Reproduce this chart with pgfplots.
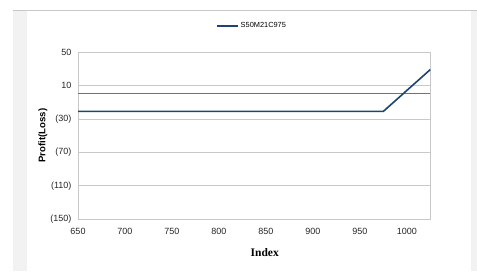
\documentclass[border=0pt]{standalone}
\usepackage{pgfplots}
\pgfplotsset{compat=1.18}
\usepackage{fontspec}
\setmainfont{Liberation Sans}
\newfontfamily\serifbf{Liberation Serif}
\definecolor{lineblue}{HTML}{1B4572}
\definecolor{strip}{HTML}{F2F2F2}
\definecolor{gridc}{HTML}{C8C8C8}
\begin{document}
\begin{tikzpicture}
\useasboundingbox (0pt,0pt) rectangle (477pt,271pt);
\fill[white] (0pt,0pt) rectangle (477pt,271pt);
\fill[strip] (13pt,0pt) rectangle (27pt,261pt);
\fill[strip] (471pt,0pt) rectangle (477pt,261pt);
\draw[gridc, line width=0.8pt] (13pt,261pt) -- (477pt,261pt);
\begin{axis}[
  at={(78pt,51.7pt)}, anchor=south west,
  scale only axis, width=352.3pt, height=167.3pt,
  xmin=650, xmax=1025, ymin=-150, ymax=50,
  xtick={650,700,...,1000},
  ytick={50,10,-30,-70,-110,-150},
  yticklabels={50,10,(30),(70),(110),(150)},
  /pgf/number format/assume math mode=true,
  ticklabel style={font=\fontsize{9}{10}\selectfont, text=black!85},
  tick style={draw=none},
  axis line style={gridc, line width=0.8pt},
  ymajorgrids, grid style={gridc, line width=0.8pt},
  xticklabel style={yshift=-5pt},
  yticklabel style={xshift=-3pt},
  x tick label style={/pgf/number format/1000 sep={}},
  xlabel={\serifbf\bfseries\fontsize{11.5}{13}\selectfont Index},
  xlabel style={at={(axis description cs:0.53,0)}, anchor=north, yshift=-26pt},
  ylabel={\bfseries\fontsize{9.6}{11}\selectfont Profit(Loss)},
  ylabel style={at={(axis description cs:-0.0994,0.5)}, anchor=center},
  legend style={at={(axis description cs:0.494,1.155)}, anchor=center, draw=none, fill=none,
    font=\fontsize{7.4}{9}\selectfont, legend cell align=left, inner sep=0pt},
  legend image code/.code={\draw[#1, line width=1.6pt] (0pt,0pt) -- (21pt,0pt);},
  clip=false,
]
\addplot[draw=gray!90!black, line width=0.8pt, forget plot] coordinates {(650,0) (1025,0)};
\addplot[lineblue, line width=1.6pt] coordinates {(650,-21) (975,-21) (1025,29)};
\addlegendentry{S50M21C975}
\end{axis}
\end{tikzpicture}
\end{document}
